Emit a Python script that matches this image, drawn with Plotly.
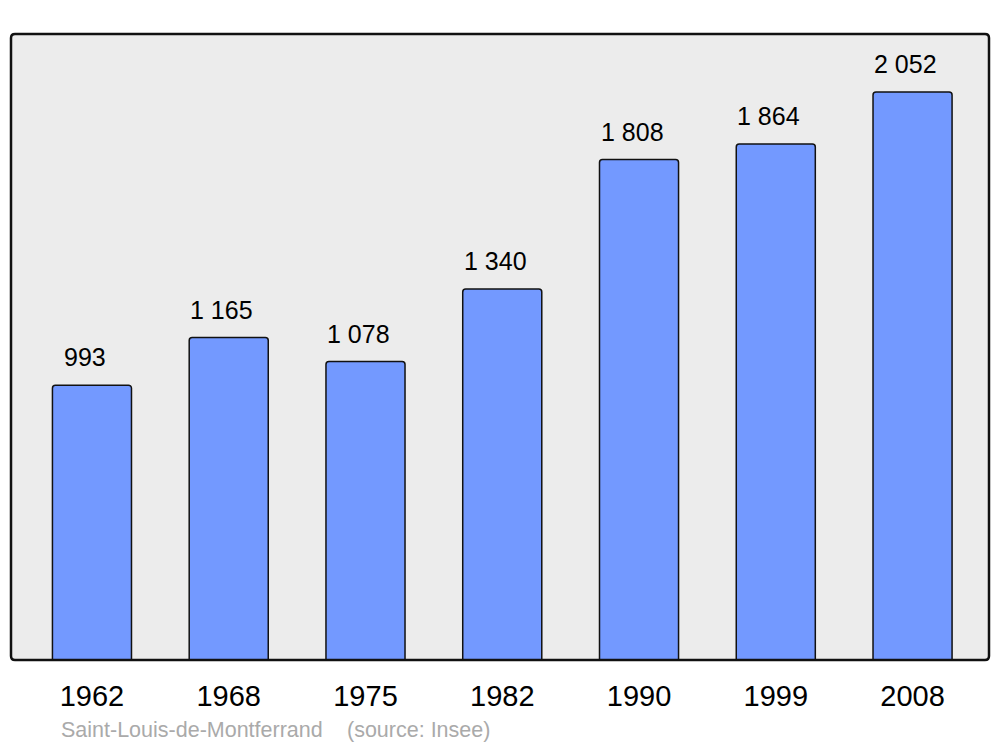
import plotly.graph_objects as go

years = ["1962", "1968", "1975", "1982", "1990", "1999", "2008"]
population = [993, 1165, 1078, 1340, 1808, 1864, 2052]
labels = ["993", "1 165", "1 078", "1 340", "1 808", "1 864", "2 052"]
commune = "Saint-Louis-de-Montferrand"
source = "(source: Insee)"

pos = list(range(len(years)))
FONT = "Liberation Sans, Arial"

fig = go.Figure()
fig.add_trace(go.Bar(
    x=pos, y=population, width=0.578,
    marker=dict(color="#7399ff", line=dict(color="#111111", width=1.5), cornerradius=3),
    hoverinfo="skip",
))

for p, v, t in zip(pos, population, labels):
    fig.add_annotation(x=p, y=v, text=t, showarrow=False, xanchor="center", yanchor="middle",
                       xshift=-7, yshift=28, font=dict(family=FONT, size=25, color="#000"))

fig.add_annotation(xref="paper", yref="paper", x=(59 - 11) / 978, y=-(730 - 660) / 626,
                   text=commune, showarrow=False, xanchor="left", yanchor="middle",
                   font=dict(family=FONT, size=21.5, color="#aaaaaa"))
fig.add_annotation(xref="paper", yref="paper", x=(345 - 11) / 978, y=-(730 - 660) / 626,
                   text=source, showarrow=False, xanchor="left", yanchor="middle",
                   font=dict(family=FONT, size=21.5, color="#aaaaaa"))

# rounded frame around plot area
rx, ry = 4 / 978, 4 / 626
path = (f"M {rx},0 L {1-rx},0 Q 1,0 1,{ry} L 1,{1-ry} Q 1,1 {1-rx},1 "
        f"L {rx},1 Q 0,1 0,{1-ry} L 0,{ry} Q 0,0 {rx},0 Z")
fig.add_shape(type="path", xref="paper", yref="paper", path=path,
              line=dict(color="#111111", width=2.5), layer="above")

# page body has an 8px default margin, so the figure is sized to fit the window
fig.update_layout(
    width=992, height=739,
    margin=dict(l=3, r=11, t=26, b=87),
    paper_bgcolor="white", plot_bgcolor="#ececec",
    showlegend=False,
    xaxis=dict(range=[-0.592, 6.559], tickvals=pos, ticktext=years, ticks="outside",
               ticklen=10, tickcolor="rgba(0,0,0,0)", showgrid=False, zeroline=False,
               showline=False, tickfont=dict(family=FONT, size=29, color="#000")),
    yaxis=dict(range=[0, 2261.5], visible=False, showgrid=False, zeroline=False),
)

fig.write_html("out.html")
